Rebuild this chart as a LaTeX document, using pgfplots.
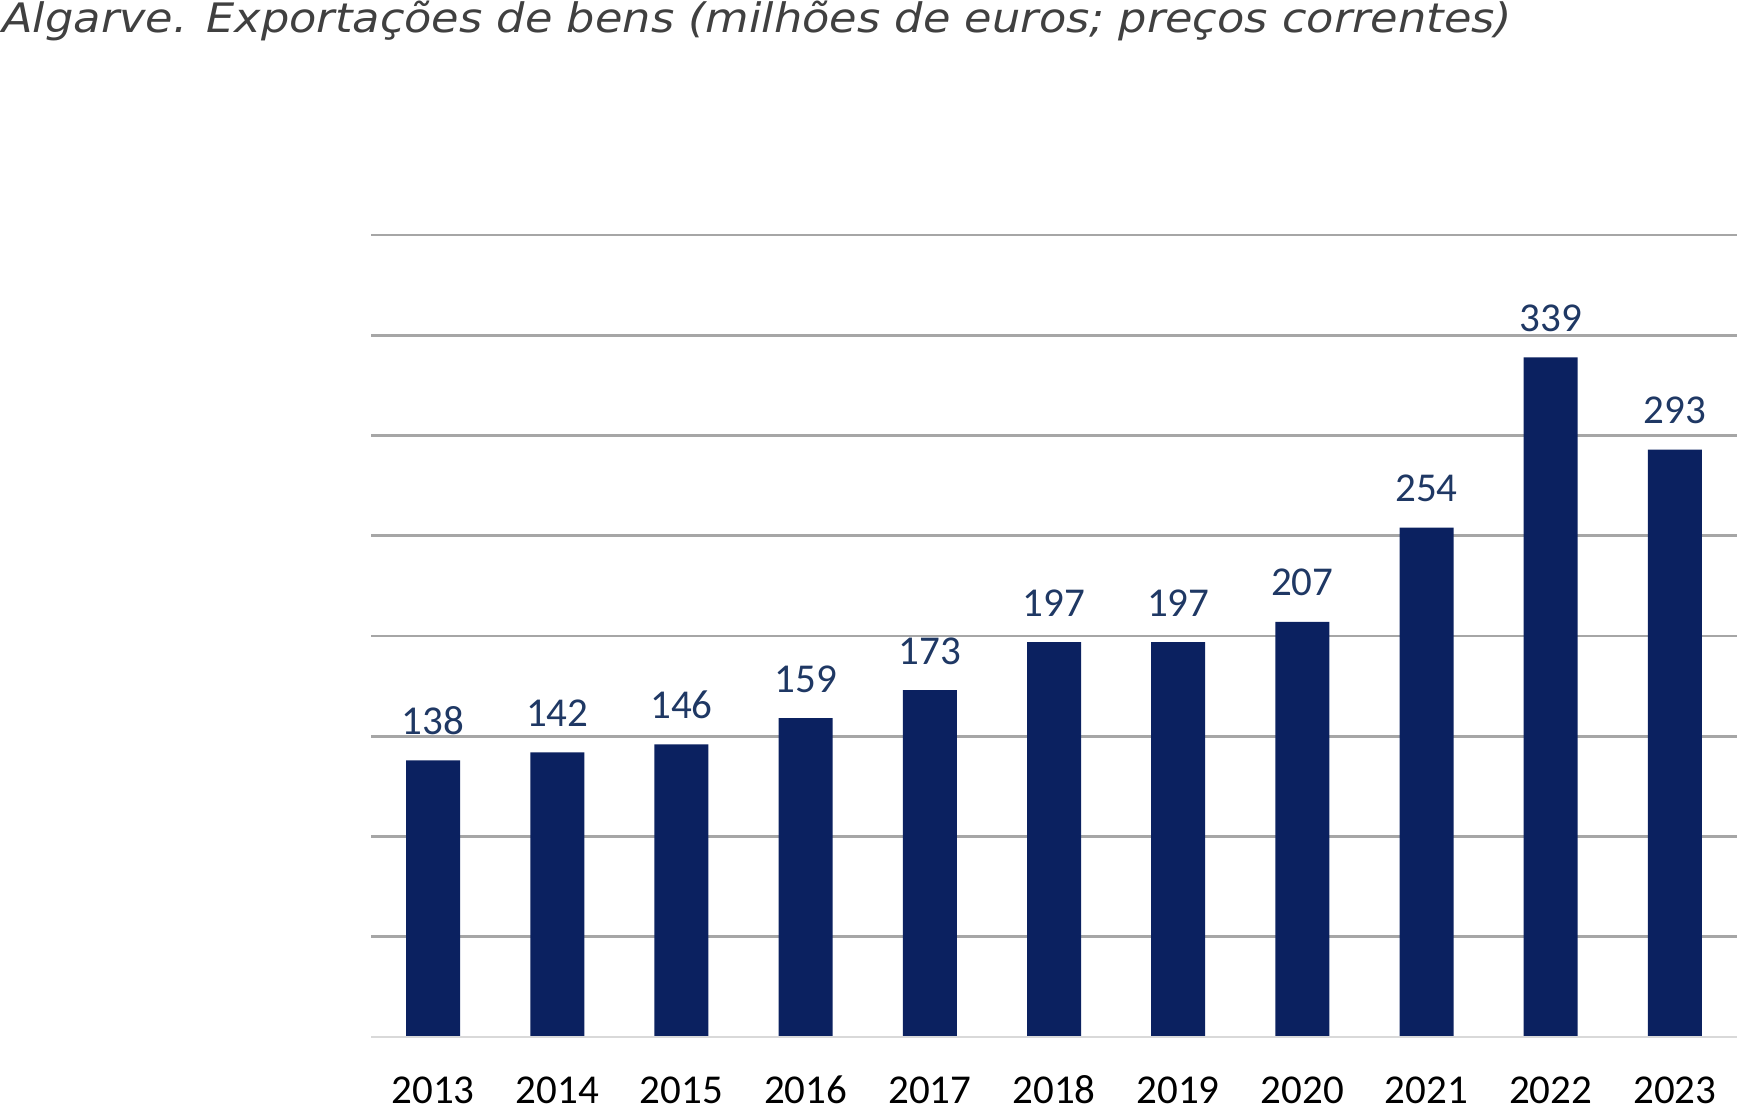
\documentclass[border=0pt]{standalone}
\usepackage{pgfplots}
\pgfplotsset{compat=1.18}
\usepackage{fontspec}
\setmainfont{Carlito}
\newfontfamily\titlefont[FakeStretch=1.1]{DejaVu Sans}
\definecolor{barblue}{HTML}{0B2160}
\definecolor{lblblue}{HTML}{1F3864}
\definecolor{gridgrey}{HTML}{A6A6A6}
\definecolor{basegrey}{HTML}{D9D9D9}
\definecolor{titlegrey}{HTML}{404040}
\begin{document}
\begin{tikzpicture}
\useasboundingbox (-185.5bp,-41.5bp) rectangle (687.5bp,518.5bp);
\begin{axis}[
  at={(0,0)}, anchor=south west,
  scale only axis,
  width=683bp, height=401bp,
  xmin=-0.5, xmax=10.5,
  ymin=0, ymax=400,
  axis line style={draw=none},
  ytick={50,100,...,400},
  yticklabels={},
  major tick length=0pt,
  ymajorgrids,
  grid style={gridgrey, line width=1.4bp},
  xtick={0,...,10},
  xticklabels={2013,2014,2015,2016,2017,2018,2019,2020,2021,2022,2023},
  xticklabel style={anchor=base, inner sep=0pt, yshift=-33bp, font=\fontsize{20.5bp}{24bp}\selectfont, text=black},
  /pgf/number format/assume math mode=true,
  ybar, bar width=27bp,
  nodes near coords,
  every node near coord/.append style={anchor=base, inner sep=0pt, yshift=13bp, font=\fontsize{20.5bp}{24bp}\selectfont, text=lblblue},
  clip=false,
]
\addplot[fill=barblue, draw=none] coordinates {
(0,138) (1,142) (2,146) (3,159) (4,173) (5,197) (6,197) (7,207) (8,254) (9,339) (10,293)};
\draw[basegrey, line width=1.4bp] (axis cs:-0.5,0) -- (axis cs:10.5,0);
\end{axis}
\node[anchor=base west, inner sep=0pt, text=titlegrey, font=\titlefont\itshape\fontsize{20.3bp}{24bp}\selectfont] at (-184.5bp,502bp) {Algarve. Exportações de bens (milhões de euros; preços correntes)};
\end{tikzpicture}
\end{document}
